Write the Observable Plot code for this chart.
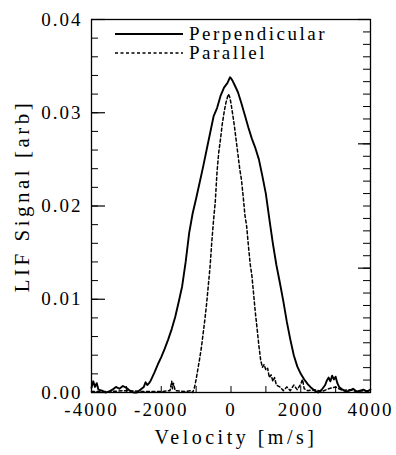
<!DOCTYPE html>
<html><head><meta charset="utf-8">
<script src="https://cdn.jsdelivr.net/npm/d3@7"></script>
<script src="https://cdn.jsdelivr.net/npm/@observablehq/plot@0.6"></script>
<style>body{margin:0;background:#fff;} svg{display:block}</style>
</head><body><div id="chart"></div>
<script>
// Perpendicular velocity distribution (solid)
const perpVelocity = [-4000,-3950,-3900,-3850,-3800,-3700,-3600,-3500,-3400,-3300,-3200,-3100,-3000,-2900,-2800,-2700,-2600,-2500,-2450,-2400,-2350,-2300,-2200,-2100,-2000,-1900,-1800,-1700,-1600,-1500,-1400,-1300,-1200,-1100,-1000,-900,-800,-700,-600,-500,-400,-300,-200,-100,-30,0,50,100,200,300,400,500,600,700,800,900,1000,1100,1200,1300,1400,1500,1600,1700,1800,1900,2000,2100,2200,2300,2400,2500,2600,2700,2750,2800,2850,2900,2950,3000,3050,3100,3200,3300,3400,3500,3600,3700,3800,3900,4000];
const perpSignal = [0.0005,0.0012,0.0006,0.0010,0.0003,0.0002,0.0000,0.0001,0.0003,0.0006,0.0004,0.0007,0.0005,0.0002,0.0000,0.0000,0.0003,0.0006,0.0011,0.0008,0.0010,0.0013,0.0021,0.0030,0.0038,0.0047,0.0057,0.0068,0.0081,0.0097,0.0114,0.0140,0.0171,0.0192,0.0208,0.0225,0.0242,0.0260,0.0278,0.0296,0.0305,0.0318,0.0327,0.0332,0.0338,0.0337,0.0334,0.0330,0.0322,0.0310,0.0297,0.0284,0.0272,0.0262,0.0250,0.0232,0.0213,0.0186,0.0160,0.0137,0.0118,0.0098,0.0076,0.0057,0.0040,0.0028,0.0020,0.0014,0.0009,0.0005,0.0002,0.0000,0.0003,0.0008,0.0013,0.0016,0.0012,0.0018,0.0014,0.0017,0.0010,0.0006,0.0003,0.0001,0.0002,0.0004,0.0001,0.0002,0.0003,0.0001,0.0003];

// Parallel velocity distribution (dashed)
const paraVelocity = [-4000,-3500,-3000,-2500,-2000,-1750,-1700,-1680,-1650,-1600,-1300,-1150,-1100,-1050,-1000,-950,-900,-850,-800,-750,-700,-650,-600,-550,-500,-450,-400,-350,-300,-250,-200,-150,-100,-70,-30,0,50,100,150,200,250,300,350,400,450,500,550,600,650,700,750,800,850,900,950,1000,1050,1100,1150,1200,1250,1300,1400,1500,1600,1700,1800,1900,2000,2050,2100,2200,2400,2600,2800,3000,3200,3400,3600,3800,4000];
const paraSignal = [0.0001,0.0001,0.0002,0.0001,0.0001,0.0002,0.0012,0.0004,0.0010,0.0002,0.0001,0.0002,0.0000,0.0005,0.0014,0.0025,0.0036,0.0048,0.0063,0.0078,0.0095,0.0115,0.0135,0.0162,0.0185,0.0205,0.0237,0.0258,0.0272,0.0288,0.0300,0.0310,0.0317,0.0320,0.0316,0.0310,0.0298,0.0285,0.0270,0.0255,0.0240,0.0228,0.0210,0.0190,0.0178,0.0157,0.0138,0.0125,0.0105,0.0085,0.0068,0.0050,0.0035,0.0027,0.0030,0.0024,0.0026,0.0016,0.0019,0.0012,0.0016,0.0008,0.0006,0.0002,0.0006,0.0002,0.0008,0.0003,0.0009,0.0014,0.0004,0.0002,0.0003,0.0001,0.0004,0.0006,0.0002,0.0003,0.0001,0.0002,0.0002];

const seriesNames = ["Perpendicular", "Parallel"];
const xTickValues = [-4000, -2000, 0, 2000, 4000];
const xTickLabels = ["-4000", "-2000", "0", "2000", "4000"];
const yTickValues = [0, 0.01, 0.02, 0.03, 0.04];
const yTickLabels = ["0.00", "0.01", "0.02", "0.03", "0.04"];
const xLabel = "Velocity [m/s]";
const yLabel = "LIF Signal [arb]";

const perp = perpVelocity.map((v, i) => ({v, s: perpSignal[i]}));
const para = paraVelocity.map((v, i) => ({v, s: paraSignal[i]}));

const W = 396, H = 455;
const mL = 91, mR = 26, mT = 19, mB = 63;
const innerW = W - mL - mR, innerH = H - mT - mB;

const yMinor = d3.range(0, 21).map(k => k * 0.002);
const rightMinor = d3.range(0, 31).map(k => k * 0.04 / 30);
const rightMajor = d3.range(0, 4).map(k => k * 0.04 / 3);
const xMinor = d3.range(-3000, 4000, 1000);

const svg = Plot.plot({
  width: W, height: H,
  marginLeft: mL, marginRight: mR, marginTop: mT, marginBottom: mB,
  style: {fontFamily: "'Liberation Serif'", fontSize: "19px", color: "#000", background: "#fff"},
  x: {domain: [-4000, 4000]},
  y: {domain: [0, 0.04]},
  marks: [
    Plot.tickY(yMinor, {y: d => d, insetRight: innerW - 7, stroke: "#000", strokeWidth: 1}),
    Plot.tickY(yTickValues, {y: d => d, insetRight: innerW - 14, stroke: "#000", strokeWidth: 1.2}),
    Plot.tickY(rightMinor, {y: d => d, insetLeft: innerW - 7, stroke: "#000", strokeWidth: 1}),
    Plot.tickY(rightMajor, {y: d => d, insetLeft: innerW - 12, stroke: "#000", strokeWidth: 1.2}),
    Plot.tickX(xMinor, {x: d => d, insetTop: innerH - 6, stroke: "#000", strokeWidth: 1}),
    Plot.axisY({ticks: yTickValues, tickSize: 0, tickPadding: 9, tickFormat: d => yTickLabels[yTickValues.indexOf(d)], label: null, fontSize: 19}),
    Plot.axisX({ticks: xTickValues, tickSize: 0, tickPadding: 10, tickFormat: d => xTickLabels[xTickValues.indexOf(d)], label: null, fontSize: 19}),
    Plot.line(perp, {x: "v", y: "s", stroke: "#000", strokeWidth: 1.9}),
    Plot.line(para, {x: "v", y: "s", stroke: "#000", strokeWidth: 1.5, strokeDasharray: "3,2.5"}),
    Plot.frame({stroke: "#000", strokeWidth: 1.3}),
    Plot.text([xLabel], {text: d => d, frameAnchor: "bottom", textAnchor: "middle", lineAnchor: "middle", dx: 5, dy: 45, fontSize: 20}),
    Plot.text([yLabel], {text: d => d, frameAnchor: "left", textAnchor: "middle", lineAnchor: "middle", rotate: -90, dx: -69, dy: -10, fontSize: 21})
  ]
});

const s = d3.select(svg);
s.selectAll("[aria-label='y-axis tick label'] text, [aria-label='x-axis tick label'] text").style("letter-spacing", "2px");
s.selectAll("[aria-label='text'] text").style("letter-spacing", "3.5px");

// legend
const legend = s.append("g").attr("font-size", 19).attr("text-anchor", "start");
const legendDash = [null, "3,2.5"];
seriesNames.forEach((name, i) => {
  const y = 34 + i * 19;
  legend.append("line").attr("x1", 115).attr("x2", 183).attr("y1", y).attr("y2", y)
    .attr("stroke", "#000").attr("stroke-width", i === 0 ? 1.9 : 1.5)
    .attr("stroke-dasharray", legendDash[i]);
  legend.append("text").attr("x", 189).attr("y", y + 6).attr("text-anchor", "start").text(name)
    .style("letter-spacing", "2.5px").attr("fill", "#000");
});

s.selectAll("text").attr("font-family", "Liberation Serif");

document.getElementById("chart").appendChild(svg);
</script>
</body></html>
